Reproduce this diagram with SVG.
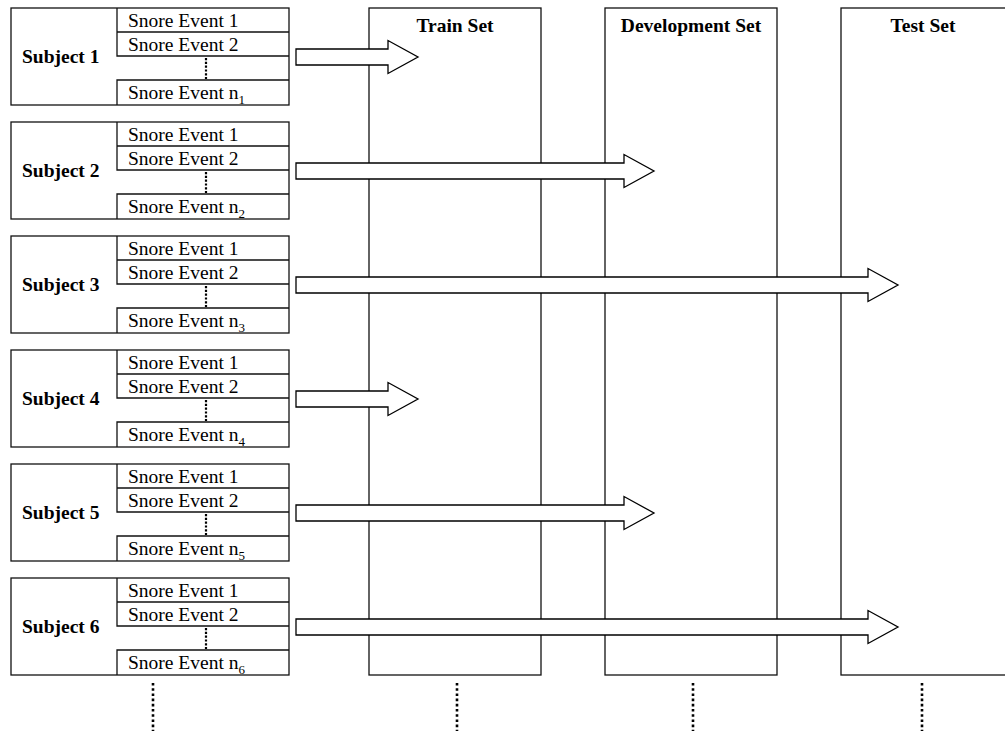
<svg xmlns="http://www.w3.org/2000/svg" width="1005" height="731" viewBox="0 0 1005 731">
<style>
.box{fill:#fff;stroke:#111;stroke-width:1.3}
.ln{fill:none;stroke:#111;stroke-width:1.3}
.t{font-family:"Liberation Serif","Times New Roman",serif;font-size:19.5px;fill:#000}
.b{font-family:"Liberation Serif","Times New Roman",serif;font-size:19.5px;font-weight:bold;fill:#000}
.sub{font-size:13px}
.dot{fill:none;stroke:#000;stroke-width:2.2;stroke-dasharray:2.2 1.6}
.dotb{fill:none;stroke:#000;stroke-width:2.6;stroke-dasharray:2.6 2.6}
.arr{fill:#fff;stroke:#000;stroke-width:1.3;stroke-linejoin:miter}
</style>
<defs>
<g id="subj">
<rect class="box" x="11" y="8" width="278" height="97"/>
<path class="ln" d="M117,8 V56 H289 M117,32 H289 M117,105 V80 H289"/>
<line class="dot" x1="206" y1="58" x2="206" y2="79"/>
<text class="t" x="128" y="27">Snore Event 1</text>
<text class="t" x="128" y="51">Snore Event 2</text>
</g>
</defs>
<g id="col-train">
<rect class="box" x="369" y="8" width="172" height="667"/>
<text class="b" x="455" y="32" text-anchor="middle">Train Set</text>
</g>
<g id="col-dev">
<rect class="box" x="605" y="8" width="172" height="667"/>
<text class="b" x="691" y="32" text-anchor="middle">Development Set</text>
</g>
<g id="col-test">
<rect class="box" x="841" y="8" width="180" height="667"/>
<text class="b" x="923" y="32" text-anchor="middle">Test Set</text>
</g>
<g id="subject1">
<use href="#subj"/>
<text class="b" x="22" y="63">Subject 1</text>
<text class="t" x="128" y="99">Snore Event n<tspan class="sub" dy="5">1</tspan></text>
</g>
<g id="subject2" transform="translate(0,114)">
<use href="#subj"/>
<text class="b" x="22" y="63">Subject 2</text>
<text class="t" x="128" y="99">Snore Event n<tspan class="sub" dy="5">2</tspan></text>
</g>
<g id="subject3" transform="translate(0,228)">
<use href="#subj"/>
<text class="b" x="22" y="63">Subject 3</text>
<text class="t" x="128" y="99">Snore Event n<tspan class="sub" dy="5">3</tspan></text>
</g>
<g id="subject4" transform="translate(0,342)">
<use href="#subj"/>
<text class="b" x="22" y="63">Subject 4</text>
<text class="t" x="128" y="99">Snore Event n<tspan class="sub" dy="5">4</tspan></text>
</g>
<g id="subject5" transform="translate(0,456)">
<use href="#subj"/>
<text class="b" x="22" y="63">Subject 5</text>
<text class="t" x="128" y="99">Snore Event n<tspan class="sub" dy="5">5</tspan></text>
</g>
<g id="subject6" transform="translate(0,570)">
<use href="#subj"/>
<text class="b" x="22" y="63">Subject 6</text>
<text class="t" x="128" y="99">Snore Event n<tspan class="sub" dy="5">6</tspan></text>
</g>
<g id="connectors">
<path class="arr" d="M296,49 H388 V40.5 L418,57 L388,73.5 V65 H296 Z"/>
<path class="arr" d="M296,163 H624 V154.5 L654,171 L624,187.5 V179 H296 Z"/>
<path class="arr" d="M296,277 H868 V268.5 L898,285 L868,301.5 V293 H296 Z"/>
<path class="arr" d="M296,391 H388 V382.5 L418,399 L388,415.5 V407 H296 Z"/>
<path class="arr" d="M296,505 H624 V496.5 L654,513 L624,529.5 V521 H296 Z"/>
<path class="arr" d="M296,619 H868 V610.5 L898,627 L868,643.5 V635 H296 Z"/>
</g>
<g id="continuation">
<line class="dotb" x1="153" y1="683" x2="153" y2="731"/>
<line class="dotb" x1="457" y1="683" x2="457" y2="731"/>
<line class="dotb" x1="693" y1="683" x2="693" y2="731"/>
<line class="dotb" x1="922" y1="683" x2="922" y2="731"/>
</g>
</svg>
